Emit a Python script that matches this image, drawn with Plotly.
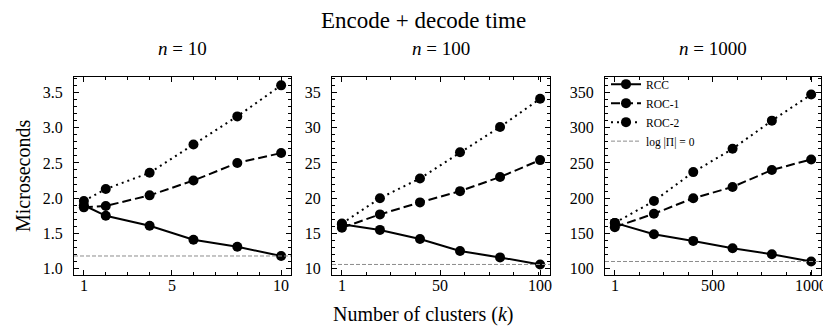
import plotly.graph_objects as go

W, H = 831, 334
FONT = "Liberation Serif"

# ---------------- data ----------------
k_n10 = [1, 2, 4, 6, 8, 10]
k_n100 = [1, 20, 40, 60, 80, 100]
k_n1000 = [1, 200, 400, 600, 800, 1000]

rcc_n10 = [1.90, 1.75, 1.61, 1.41, 1.31, 1.18]
roc1_n10 = [1.87, 1.89, 2.04, 2.25, 2.50, 2.64]
roc2_n10 = [1.96, 2.13, 2.36, 2.76, 3.16, 3.60]
base_n10 = 1.18

rcc_n100 = [16.3, 15.5, 14.2, 12.5, 11.6, 10.6]
roc1_n100 = [15.8, 17.7, 19.4, 21.0, 23.0, 25.4]
roc2_n100 = [16.4, 20.0, 22.8, 26.5, 30.1, 34.1]
base_n100 = 10.6

rcc_n1000 = [165, 149, 139.5, 129, 120.5, 110.3]
roc1_n1000 = [159, 178, 200, 216, 240, 255]
roc2_n1000 = [165, 196, 237, 270, 310, 347]
base_n1000 = 110.3

series_names = ["RCC", "ROC-1", "ROC-2"]
baseline_name = "log |Π| = 0"
panel_titles = ["<i>n</i> = 10", "<i>n</i> = 100", "<i>n</i> = 1000"]
suptitle = "Encode + decode time"
xlabel = "Number of clusters (<i>k</i>)"
ylabel = "Microseconds"

x_ticks = [[1, 5, 10], [1, 50, 100], [1, 500, 1000]]

# ---------------- layout geometry ----------------
panels_px = [(66, 283), (324, 542), (597, 813)]
top_px, bot_px = 69.3, 269
x_ranges = [[0.55, 10.45], [-3.95, 104.95], [-48.95, 1049.95]]
y_ranges = [[0.905, 3.72], [9.05, 37.2], [90.6, 372]]
x_minor = [[2, 3, 4, 6, 7, 8, 9],
           [13.25, 25.5, 37.75, 62.25, 74.5, 86.75, 99],
           [125.75, 250.5, 375.25, 624.75, 749.5, 874.25, 999]]
y_major = [dict(tick0=1.0, dtick=0.5, tickformat=".1f"),
           dict(tick0=10, dtick=5),
           dict(tick0=100, dtick=50)]
y_minor_dt = [0.1, 1, 10]

ks = [k_n10, k_n100, k_n1000]
data = [
    [rcc_n10, roc1_n10, roc2_n10],
    [rcc_n100, roc1_n100, roc2_n100],
    [rcc_n1000, roc1_n1000, roc2_n1000],
]
bases = [base_n10, base_n100, base_n1000]
dashes = ["solid", "9px,4px", "2px,4px"]

fig = go.Figure()

for p in range(3):
    xa = "x" if p == 0 else f"x{p+1}"
    ya = "y" if p == 0 else f"y{p+1}"
    for s in range(3):
        fig.add_trace(go.Scatter(
            x=ks[p], y=data[p][s], xaxis=xa, yaxis=ya,
            mode="lines+markers", name=series_names[s],
            line=dict(color="black", width=2, dash=dashes[s]),
            marker=dict(color="black", size=10),
            showlegend=(p == 2), legendgroup=series_names[s],
        ))
    fig.add_shape(type="line", xref=f"{xa} domain", yref=ya,
                  x0=0, x1=1, y0=bases[p], y1=bases[p],
                  line=dict(color="#8c8c8c", width=1, dash="4px,2px"))

# legend entry for baseline
fig.add_trace(go.Scatter(
    x=[None], y=[None], xaxis="x3", yaxis="y3", mode="lines",
    name=baseline_name, line=dict(color="#8c8c8c", width=1, dash="4px,2px"),
    showlegend=True,
))

layout = dict(
    width=W, height=H,
    margin=dict(l=0, r=0, t=0, b=0),
    paper_bgcolor="white", plot_bgcolor="white",
    font=dict(family=FONT, size=16, color="black"),
    showlegend=True,
    legend=dict(x=598 / W, y=1 - 62 / H, xanchor="left", yanchor="top",
                bgcolor="rgba(0,0,0,0)", font=dict(size=11.5, family=FONT),
                itemwidth=30, tracegroupgap=0),
)

annotations = []
for p in range(3):
    xk = "xaxis" if p == 0 else f"xaxis{p+1}"
    yk = "yaxis" if p == 0 else f"yaxis{p+1}"
    xa = "x" if p == 0 else f"x{p+1}"
    l, r = panels_px[p]
    layout[xk] = dict(
        domain=[l / W, r / W], range=x_ranges[p], anchor="y" if p == 0 else f"y{p+1}",
        tickmode="array", tickvals=x_ticks[p], showticklabels=False,
        ticks="inside", ticklen=5, tickwidth=1, tickcolor="black",
        showline=True, linecolor="black", linewidth=1, mirror="allticks",
        showgrid=False, zeroline=False,
        minor=dict(tickmode="array", tickvals=x_minor[p], ticks="inside",
                   ticklen=3, tickwidth=1, tickcolor="black", showgrid=False),
    )
    layout[yk] = dict(
        domain=[1 - bot_px / H, 1 - top_px / H], range=y_ranges[p],
        anchor="x" if p == 0 else f"x{p+1}",
        tickmode="linear", **y_major[p],
        ticks="inside", ticklen=5, tickwidth=1, tickcolor="black",
        showline=True, linecolor="black", linewidth=1, mirror="allticks",
        showgrid=False, zeroline=False, ticklabelstandoff=7,
        minor=dict(dtick=y_minor_dt[p], ticks="inside", ticklen=3,
                   tickwidth=1, tickcolor="black", showgrid=False),
        tickfont=dict(size=16),
    )
    # x tick labels placed via the axis scale
    for t in x_ticks[p]:
        annotations.append(dict(text=str(t), x=t, xref=xa, y=1 - 279 / H, yref="paper",
                                showarrow=False, font=dict(size=16),
                                xanchor="center", yanchor="middle"))

annotations += [
    dict(text=suptitle, x=415 / W, y=1 - 12.5 / H, xref="paper", yref="paper",
         showarrow=False, font=dict(size=23), xanchor="center", yanchor="middle"),
    dict(text=xlabel, x=415 / W, y=1 - 308 / H, xref="paper", yref="paper",
         showarrow=False, font=dict(size=20), xanchor="center", yanchor="middle"),
    dict(text=ylabel, x=15 / W, y=1 - 169 / H, xref="paper", yref="paper",
         showarrow=False, font=dict(size=20), textangle=-90,
         xanchor="center", yanchor="middle"),
]
for p in range(3):
    l, r = panels_px[p]
    annotations.append(dict(text=panel_titles[p], x=(l + r) / 2 / W, y=1 - 41 / H,
                            xref="paper", yref="paper", showarrow=False,
                            font=dict(size=19), xanchor="center", yanchor="middle"))
layout["annotations"] = annotations

fig.update_layout(**layout)
fig.write_html("out.html")
